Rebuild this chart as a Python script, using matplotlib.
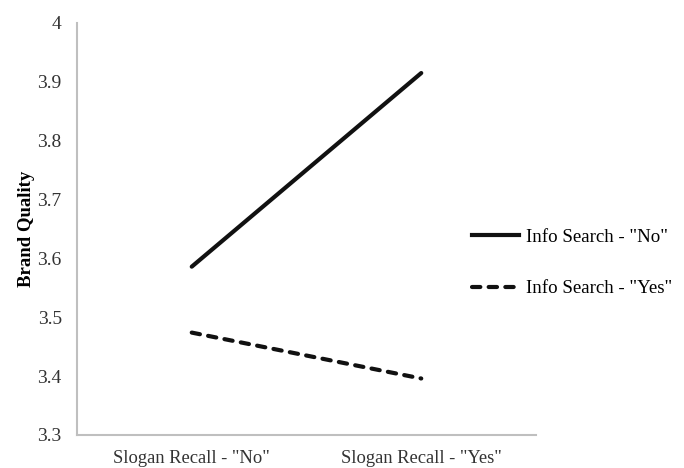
import matplotlib.pyplot as plt
import matplotlib.lines as mlines

plt.rcParams["font.family"] = ["Liberation Serif", "DejaVu Serif"]

categories = ['Slogan Recall - "No"', 'Slogan Recall - "Yes"']
search_no = [3.586, 3.915]
search_yes = [3.474, 3.396]
labels = ['Info Search - "No"', 'Info Search - "Yes"']

fig = plt.figure(figsize=(6.84, 4.68), dpi=100)
ax = fig.add_axes([77 / 684, 1 - 435 / 468, (536 - 77) / 684, (435 - 23) / 468])

lw = 3
dash = (0, (2.0, 2.0))
x = list(range(len(categories)))
ax.plot(x, search_no, color="#111111", linewidth=lw, solid_capstyle="round")
ax.plot(x, search_yes, color="#111111", linewidth=lw, linestyle=dash,
        dash_capstyle="round")

ax.set_xlim(-0.5, 1.5)
ax.set_ylim(3.3, 4.0)
ax.set_yticks([3.3, 3.4, 3.5, 3.6, 3.7, 3.8, 3.9, 4.0])
ax.set_yticklabels(["3.3", "3.4", "3.5", "3.6", "3.7", "3.8", "3.9", "4"])
ax.set_xticks(x)
ax.set_xticklabels(categories)
ax.tick_params(length=0, colors="#333333")
ax.tick_params(axis="y", pad=11, labelsize=14)
ax.tick_params(axis="x", pad=11, labelsize=13.3)

for side in ["top", "right"]:
    ax.spines[side].set_visible(False)
for side in ["left", "bottom"]:
    ax.spines[side].set_color("#bfbfbf")
    ax.spines[side].set_linewidth(1.5)

ax.set_ylabel("Brand Quality", fontweight="bold", fontsize=13.5, labelpad=2)

handles = [
    mlines.Line2D([], [], color="#111111", linewidth=lw),
    mlines.Line2D([], [], color="#111111", linewidth=lw, linestyle=dash,
                  dash_capstyle="round"),
]
fig.legend(handles, labels, loc="center left", bbox_to_anchor=(455 / 684, 1 - 263 / 468),
           frameon=False, fontsize=13.6, handlelength=2.5, handletextpad=0.35,
           labelspacing=1.8)

fig.savefig("out.png", dpi=100)
